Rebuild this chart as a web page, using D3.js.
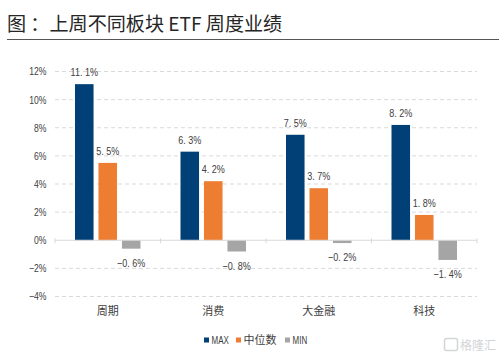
<!DOCTYPE html>
<html>
<head>
<meta charset="utf-8">
<script src="https://cdn.jsdelivr.net/npm/d3@7"></script>
<style>
	html, body { margin: 0; padding: 0; background: #ffffff; }
	svg { display: block; }
	text { font-family: "Liberation Sans", "Noto Sans CJK SC", sans-serif; fill: #404040; }
	.cjk { font-family: "Noto Sans CJK SC", sans-serif; }
</style>
</head>
<body>
<svg id="chart" width="499" height="357"></svg>
<script>
var categories = ['周期', '消费', '大金融', '科技'];
var series_names = ['MAX', '中位数', 'MIN'];
var series_colors = ['#004077', '#ed7d31', '#a5a5a5'];
var max_values = [11.1, 6.3, 7.5, 8.2];
var median_values = [5.5, 4.2, 3.7, 1.8];
var min_values = [-0.6, -0.8, -0.2, -1.4];
var y_ticks = [12, 10, 8, 6, 4, 2, 0, -2, -4];

var all_values = [max_values, median_values, min_values];

// the reference digits are tall and narrow, no narrow font here so squeeze the glyphs
function squeeze(sel, factor) {
	sel.each(function() {
		d3.select(this).attr('textLength', this.getComputedTextLength() * factor)
			.attr('lengthAdjust', 'spacingAndGlyphs');
	});
}

var svg_elem = d3.select('#chart');

// title and rule
svg_elem.append('text').attr('class', 'cjk').attr('x', 7).attr('y', 30.5)
	.attr('font-size', 19.1).style('fill', '#262626')
	.text('图 ：上周不同板块 ETF 周度业绩');
svg_elem.append('line').attr('x1', 7).attr('x2', 499).attr('y1', 39.5).attr('y2', 39.5)
	.attr('stroke', '#555555').attr('stroke-width', 1);

// setup scales
var x_scale = d3.scaleBand().domain(categories).range([55, 477]);
var inner_scale = d3.scaleBand().domain(series_names)
	.range([20, x_scale.bandwidth() - 20]).paddingInner(0.21);
var y_scale = d3.scaleLinear().domain([-4, 12]).range([296.5, 71.5]);

// gridlines, zero is drawn by the axis below
svg_elem.append('g').selectAll('line').data(y_ticks.filter(d => d != 0)).enter().append('line')
	.attr('x1', 55).attr('x2', 477)
	.attr('y1', d => y_scale(d)).attr('y2', d => y_scale(d))
	.attr('stroke', '#d9d9d9').attr('stroke-width', 1).attr('stroke-dasharray', '4,3');

// y axis, only the labels show
var y_axis = svg_elem.append('g').attr('transform', 'translate(55,0)')
	.call(d3.axisLeft(y_scale).tickValues(y_ticks).tickSize(0).tickPadding(8.5).tickFormat(d => (d + '%').replace('-', '−')));
y_axis.select('.domain').remove();
y_axis.selectAll('text').attr('font-size', 10.5)
	.style('font-family', '"Liberation Sans", sans-serif').style('fill', '#404040')
	.call(squeeze, 0.82);

// bars and their labels
var groups = svg_elem.append('g').selectAll('g').data(categories).enter().append('g')
	.attr('transform', d => 'translate(' + x_scale(d) + ',0)');

series_names.forEach(function(name, s) {
	groups.append('rect')
		.attr('x', inner_scale(name))
		.attr('width', inner_scale.bandwidth())
		.attr('y', (d, i) => y_scale(Math.max(all_values[s][i], 0)))
		.attr('height', (d, i) => Math.abs(y_scale(all_values[s][i]) - y_scale(0)))
		.attr('fill', series_colors[s]);
	groups.append('text')
		.attr('x', inner_scale(name) + inner_scale.bandwidth() / 2)
		.attr('y', (d, i) => y_scale(all_values[s][i]) + (all_values[s][i] < 0 ? 18 : -8))
		.attr('text-anchor', 'middle').attr('font-size', 11)
		.text((d, i) => all_values[s][i].toFixed(1).replace('-', '−').replace('.', '. ') + '%')
		.call(squeeze, 0.82);
});

// x axis at zero
var x_line = svg_elem.append('g').attr('transform', 'translate(0,' + y_scale(0) + ')');
x_line.append('line').attr('x1', 55).attr('x2', 477).attr('stroke', '#d9d9d9').attr('stroke-width', 1);
x_line.selectAll('.tick_mark').data(d3.range(5)).enter().append('line')
	.attr('x1', i => 55 + i * x_scale.step()).attr('x2', i => 55 + i * x_scale.step())
	.attr('y1', -2).attr('y2', 3).attr('stroke', '#d9d9d9');

// category labels
svg_elem.append('g').selectAll('text').data(categories).enter().append('text')
	.attr('class', 'cjk')
	.attr('x', d => x_scale(d) + x_scale.bandwidth() / 2).attr('y', 315)
	.attr('text-anchor', 'middle').attr('font-size', 11).text(d => d);

// legend
var legend_x = [204, 236, 285];
series_names.forEach(function(name, s) {
	svg_elem.append('rect').attr('x', legend_x[s]).attr('y', 337.5)
		.attr('width', 5).attr('height', 5).attr('fill', series_colors[s]);
	var label = svg_elem.append('text').attr('class', s == 1 ? 'cjk' : null)
		.attr('x', legend_x[s] + 7.5).attr('y', 344)
		.attr('font-size', s == 1 ? 11 : 10)
		.text(name);
	if (s != 1) label.call(squeeze, 0.8);
});

// watermark
svg_elem.append('rect').attr('x', 444.5).attr('y', 338.5).attr('width', 13).attr('height', 12).attr('rx', 2)
	.attr('fill', 'none').attr('stroke', '#d2d5d8').attr('stroke-width', 1.5);
svg_elem.append('text').attr('class', 'cjk').attr('x', 460).attr('y', 350)
	.attr('font-size', 12).style('fill', '#d2d5d8').text('格隆汇');
</script>
</body>
</html>
